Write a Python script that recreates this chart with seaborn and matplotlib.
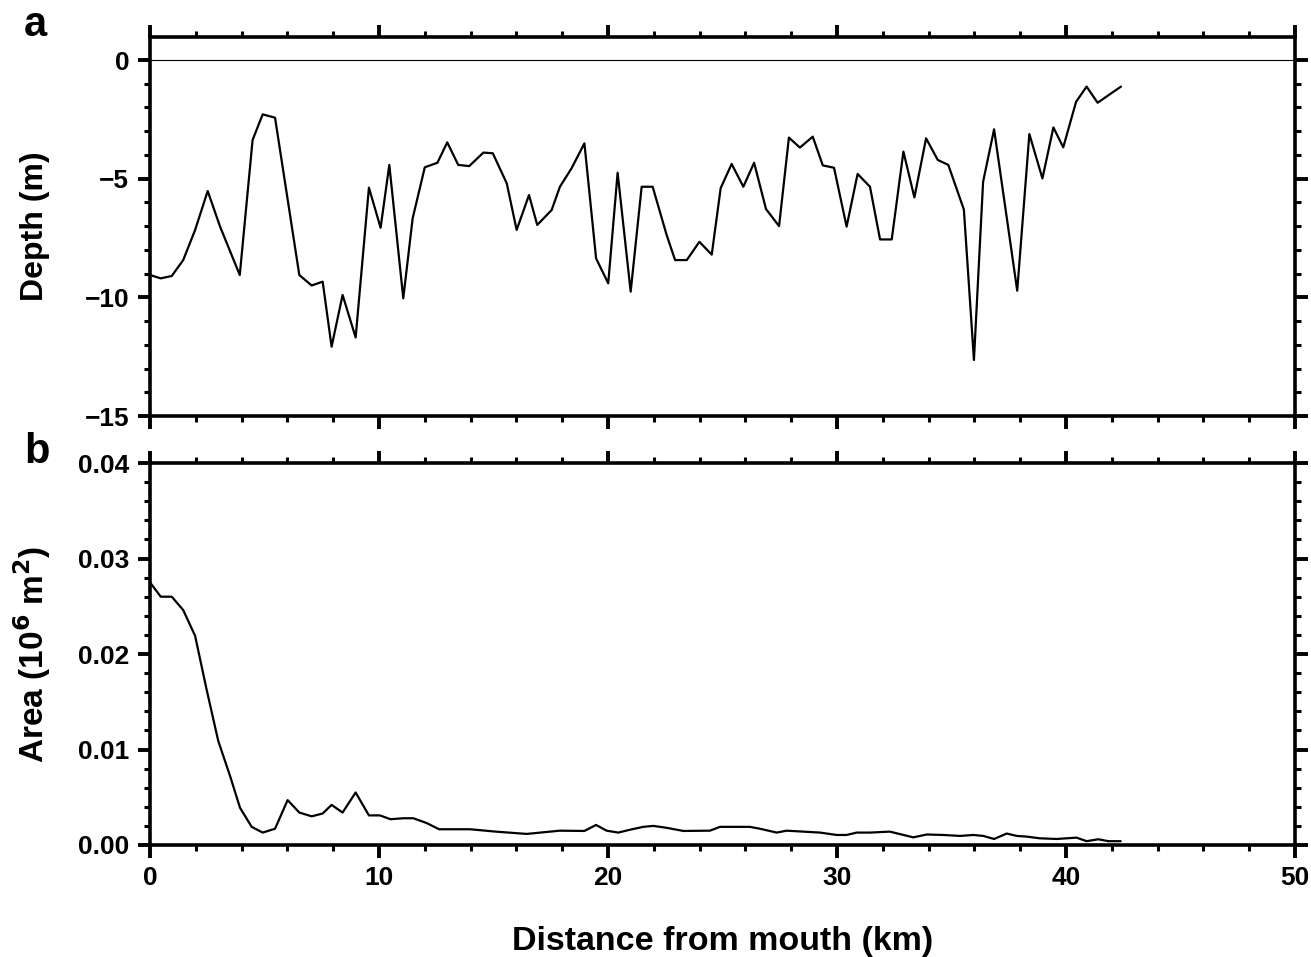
import matplotlib
matplotlib.use("Agg")
import matplotlib.pyplot as plt
import seaborn as sns
import numpy as np
import pandas as pd
from matplotlib.ticker import MultipleLocator

# ---- data ----
depth_km = [0.0, 0.47, 0.95, 1.45, 1.97, 2.52, 3.06, 3.92, 4.48, 4.92, 5.46, 6.52,
            7.06, 7.54, 7.93, 8.41, 8.98, 9.56, 10.07, 10.45, 11.06, 11.47, 12.0,
            12.55, 12.98, 13.46, 13.94, 14.56, 14.97, 15.58, 16.01, 16.55, 16.91,
            17.54, 17.9, 18.41, 18.97, 19.48, 20.01, 20.42, 20.99, 21.47, 21.95,
            22.56, 22.93, 23.44, 23.99, 24.53, 24.92, 25.4, 25.91, 26.38, 26.9,
            27.47, 27.9, 28.38, 28.94, 29.38, 29.87, 30.42, 30.9, 31.44, 31.88,
            32.39, 32.9, 33.38, 33.89, 34.4, 34.86, 35.54, 35.98, 36.38, 36.86,
            37.87, 38.4, 38.97, 39.45, 39.88, 40.44, 40.9, 41.38, 42.4]
depth_m = [-9.06, -9.2, -9.1, -8.43, -7.16, -5.52, -7.02, -9.06, -3.37, -2.29, -2.43,
           -9.06, -9.5, -9.34, -12.08, -9.9, -11.69, -5.38, -7.07, -4.42, -10.04,
           -6.67, -4.52, -4.33, -3.47, -4.42, -4.47, -3.9, -3.93, -5.2, -7.16, -5.69,
           -6.95, -6.32, -5.34, -4.56, -3.51, -8.36, -9.41, -4.75, -9.76, -5.34,
           -5.34, -7.37, -8.43, -8.43, -7.66, -8.2, -5.4, -4.38, -5.34, -4.33, -6.28,
           -7.0, -3.27, -3.69, -3.23, -4.44, -4.54, -7.02, -4.8, -5.34, -7.56, -7.56,
           -3.86, -5.79, -3.3, -4.21, -4.42, -6.3, -12.64, -5.13, -2.92, -9.72,
           -3.12, -4.99, -2.84, -3.68, -1.76, -1.12, -1.8, -1.12]

area_km = [0.0, 0.47, 0.95, 1.45, 1.97, 2.47, 2.98, 3.5, 3.93, 4.44, 4.92, 5.46,
           6.01, 6.52, 7.06, 7.54, 7.93, 8.41, 8.98, 9.56, 10.04, 10.5, 11.06, 11.5,
           12.08, 12.62, 13.97, 15.1, 16.45, 17.9, 18.97, 19.48, 19.94, 20.45,
           20.96, 21.54, 21.98, 22.56, 23.29, 24.45, 24.89, 26.2, 26.64, 27.37,
           27.8, 28.53, 29.26, 29.99, 30.42, 30.86, 31.44, 32.31, 33.33, 33.92,
           34.64, 35.37, 35.95, 36.39, 36.86, 37.41, 37.85, 38.28, 38.86, 39.59,
           40.46, 40.9, 41.41, 41.85, 42.39]
area_1e6m2 = [0.0275, 0.0260, 0.0260, 0.0246, 0.0219, 0.0163, 0.0109, 0.0072,
              0.0039, 0.0019, 0.0013, 0.0017, 0.0047, 0.0034, 0.0030, 0.0033,
              0.0042, 0.0034, 0.0055, 0.0031, 0.0031, 0.0027, 0.0028, 0.0028,
              0.0023, 0.00165, 0.00165, 0.0014, 0.00116, 0.0015, 0.00147, 0.0021,
              0.0015, 0.0013, 0.0016, 0.0019, 0.0020, 0.0018, 0.00147, 0.0015,
              0.0019, 0.0019, 0.0017, 0.0013, 0.0015, 0.0014, 0.0013, 0.00105,
              0.00105, 0.0013, 0.0013, 0.0014, 0.0008, 0.0011, 0.00105, 0.00095,
              0.00105, 0.00095, 0.00063, 0.0012, 0.00095, 0.00088, 0.0007, 0.00063,
              0.00077, 0.0004, 0.0006, 0.0004, 0.0004]

df_depth = pd.DataFrame({"km": depth_km, "depth": depth_m})
df_area = pd.DataFrame({"km": area_km, "area": area_1e6m2})

sns.set_theme(style="ticks")
plt.rcParams["font.family"] = ["Liberation Sans", "DejaVu Sans"]
plt.rcParams["font.weight"] = "bold"
plt.rcParams["axes.labelweight"] = "bold"
for k in ("text.color", "axes.labelcolor", "xtick.color", "ytick.color",
          "axes.edgecolor"):
    plt.rcParams[k] = "black"

W, H = 1311, 957
fig = plt.figure(figsize=(W / 100, H / 100), dpi=100)
ax1 = fig.add_axes([150 / W, 1 - 416 / H, 1145 / W, 379 / H])
ax2 = fig.add_axes([150 / W, 1 - 845 / H, 1145 / W, 382 / H])

sns.lineplot(data=df_depth, x="km", y="depth", ax=ax1, color="black", lw=1.6,
             sort=False, estimator=None)
sns.lineplot(data=df_area, x="km", y="area", ax=ax2, color="black", lw=1.6,
             sort=False, estimator=None)
ax1.axhline(0, color="black", lw=0.8)

ax1.set_xlim(0, 50)
ax2.set_xlim(0, 50)
ax1.set_ylim(-15, 0.97)
ax2.set_ylim(0, 0.04)

ax1.yaxis.set_major_locator(MultipleLocator(5))
ax1.yaxis.set_minor_locator(MultipleLocator(1))
ax2.yaxis.set_major_locator(MultipleLocator(0.01))
ax2.yaxis.set_minor_locator(MultipleLocator(0.002))
ax2.yaxis.set_major_formatter(matplotlib.ticker.FormatStrFormatter("%.2f"))
for ax in (ax1, ax2):
    ax.xaxis.set_major_locator(MultipleLocator(10))
    ax.xaxis.set_minor_locator(MultipleLocator(2))
    for s in ax.spines.values():
        s.set_linewidth(2.6)
        s.set_color("black")
    ax.tick_params(which="both", direction="out", top=True, right=True,
                   bottom=True, left=True, color="black", labelcolor="black")
    ax.tick_params(which="major", length=9, width=2.8, labelsize=19, pad=6)
    ax.tick_params(which="minor", length=4, width=2.2)
    for lab in ax.get_xticklabels() + ax.get_yticklabels():
        lab.set_fontweight("bold")
    ax.grid(False)

ax1.tick_params(labelbottom=False)
ax1.set_xlabel("")
ax1.set_ylabel("Depth (m)", fontsize=23, fontweight="bold", labelpad=25,
               color="black")
ax2.set_ylabel("Area (10$^{6}$ m$^{2}$)", fontsize=24, fontweight="bold",
               labelpad=18, color="black")
ax2.set_xlabel("Distance from mouth (km)", fontsize=24.5, fontweight="bold",
               labelpad=26, color="black")

fig.text(24 / W, 1 - 36 / H, "a", fontsize=30, fontweight="bold", ha="left",
         va="baseline", color="black")
fig.text(24 / W, 1 - 463 / H, "b", fontsize=30, fontweight="bold", ha="left",
         va="baseline", color="black")

fig.savefig("out.png", dpi=100)
